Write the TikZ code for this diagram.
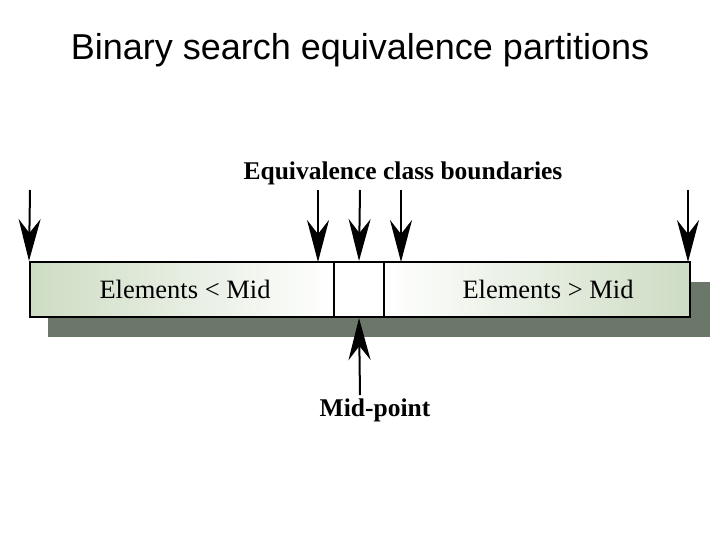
\documentclass[tikz,border=0pt]{standalone}
\usepackage{fontspec}
\setmainfont{Liberation Serif}
\newfontfamily\titlefont{Liberation Sans}
\usetikzlibrary{arrows.meta,positioning}
\definecolor{BarGreen}{RGB}{205,220,195}
\definecolor{ShadowGrey}{RGB}{107,120,105}

\begin{document}
\begin{tikzpicture}[
  x=1pt,y=-1pt,
  part/.style={draw,line width=2pt,minimum height=55pt,inner sep=0pt},
  pointer/.style={line width=2pt,-{Stealth[length=42pt,width=22pt,inset=14pt]}},
  inner text/.style={font=\fontsize{26.5}{30}\selectfont},
  heading/.style={font=\fontsize{25.5}{30}\selectfont\bfseries}]
\path[use as bounding box] (0,0) rectangle (720,540);
\node[font=\titlefont\fontsize{36}{40}\selectfont] (title) at (360,50) {Binary search equivalence partitions};
% shadow behind the bar
\fill[ShadowGrey] (48,282) rectangle (710,337);
\node[part,left color=BarGreen,right color=white,minimum width=304pt] (lower) at (182,289.5) {};
\node[part,fill=white,minimum width=50pt] (middle) at (359,289.5) {};
\node[part,left color=white,right color=BarGreen,minimum width=306pt] (upper) at (537,289.5) {};
\node[inner text] (ltext) at (185,289) {Elements < Mid};
\node[inner text] (gtext) at (548,289) {Elements > Mid};
\node[heading] (bounds) at (403,173) {Equivalence class boundaries};
\node[heading] (mid) at (375,410) {Mid-point};
\coordinate (s1) at (30,190);
\coordinate (s2) at (318,190);
\coordinate (s3) at (360,190);
\coordinate (s4) at (401,190);
\coordinate (s5) at (688,190);
\coordinate (e2) at (318,262);
\coordinate (e4) at (401,262);
\coordinate (e5) at (688,262);
\coordinate (m1) at (360,395);
\draw[pointer] (s1) -- (lower.north west);
\draw[pointer] (s2) -- (e2);
\draw[pointer] (s3) -- (middle.north);
\draw[pointer] (s4) -- (e4);
\draw[pointer] (s5) -- (e5);
\draw[pointer] (m1) -- (middle.south);
\end{tikzpicture}
\end{document}
